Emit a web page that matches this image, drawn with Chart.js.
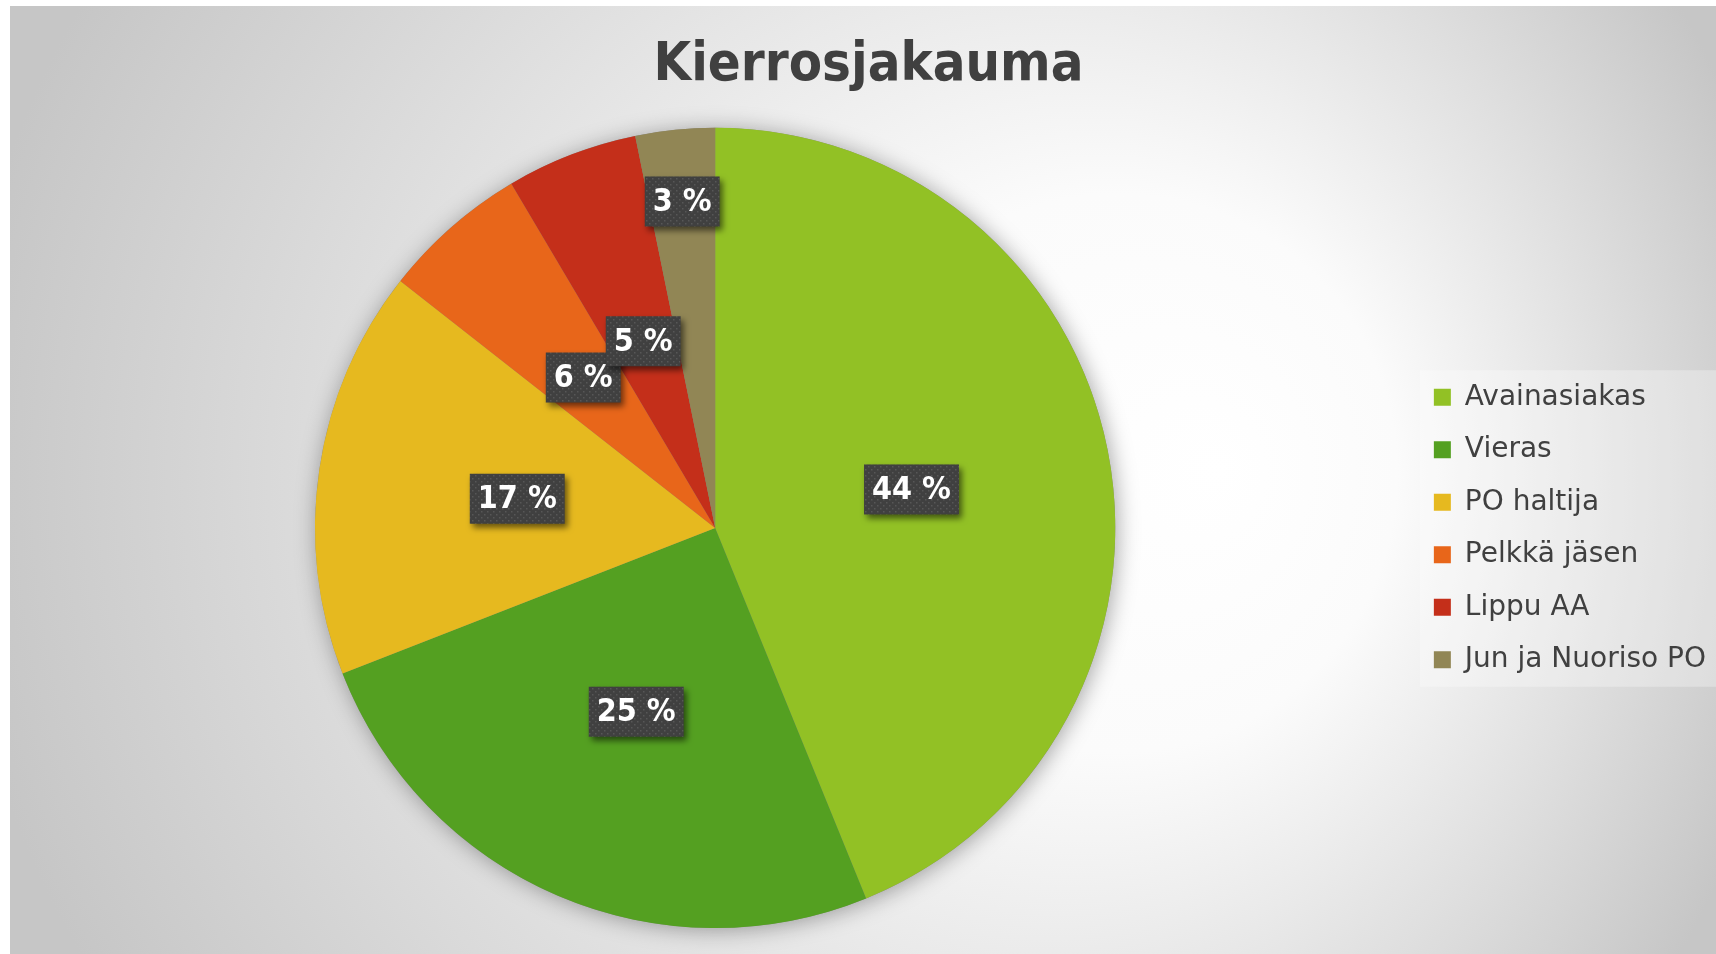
<!DOCTYPE html>
<html>
<head>
<meta charset="utf-8">
<script src="https://cdn.jsdelivr.net/npm/chart.js@4/dist/chart.umd.min.js"></script>
<style>
  html, body { margin: 0; padding: 0; background: #fff; }
  #wrap { width: 1716px; height: 954px; }
</style>
</head>
<body>
<div id="wrap"><canvas id="pie" width="1716" height="954"></canvas></div>
<script>
// kierrokset jakauma
const categories = ['Avainasiakas', 'Vieras', 'PO haltija', 'Pelkkä jäsen', 'Lippu AA', 'Jun ja Nuoriso PO'];
const rounds = [438, 252, 165, 59, 53, 32];
const sliceColors = ['#92c125', '#54a021', '#e6b91f', '#e8661a', '#c42f1a', '#918655'];
// etiketin etäisyys keskeltä (osuus säteestä)
const labelRadius = [0.5, 0.5, 0.5, 0.5, 0.5, 0.82];

const total = rounds.reduce((a, b) => a + b, 0);

// pisteytetty kuvio etikettilaatikoille
function dotPattern(ctx) {
  const c = document.createElement('canvas');
  c.width = 6; c.height = 6;
  const p = c.getContext('2d');
  p.fillStyle = '#404040';
  p.fillRect(0, 0, 6, 6);
  p.fillStyle = '#575757';
  p.fillRect(1, 1, 1.5, 1.5);
  p.fillRect(4, 4, 1.5, 1.5);
  return ctx.createPattern(c, 'repeat');
}

const backdrop = {
  id: 'backdrop',
  beforeDraw(chart) {
    const {ctx, width, height} = chart;
    ctx.save();
    ctx.fillStyle = '#fff';
    ctx.fillRect(0, 0, width, height);
    const g = ctx.createRadialGradient(1220, 470, 0, 880, 480, 930);
    g.addColorStop(0, '#ffffff');
    g.addColorStop(0.3, '#fbfbfb');
    g.addColorStop(1, '#c6c6c6');
    ctx.fillStyle = g;
    ctx.fillRect(10, 6, width - 10, height - 6);
    // legendan tausta
    const boxes = chart.legend.legendHitBoxes;
    if (boxes && boxes.length) {
      const top = boxes[0].top - 13;
      const bottom = boxes[boxes.length - 1].top + boxes[boxes.length - 1].height + 13;
      const left = boxes[0].left - 14;
      ctx.fillStyle = 'rgba(255,255,255,0.3)';
      ctx.fillRect(left, top, width - left, bottom - top);
    }
    ctx.restore();
  },
  beforeDatasetsDraw(chart) {
    const arc = chart.getDatasetMeta(0).data[0];
    if (!arc) return;
    const {ctx} = chart;
    ctx.save();
    ctx.shadowColor = 'rgba(0,0,0,0.35)';
    ctx.shadowBlur = 22;
    ctx.shadowOffsetX = 2;
    ctx.shadowOffsetY = 2;
    ctx.fillStyle = '#888';
    ctx.beginPath();
    ctx.arc(arc.x, arc.y, arc.outerRadius, 0, Math.PI * 2);
    ctx.fill();
    ctx.restore();
  }
};

const sliceLabels = {
  id: 'sliceLabels',
  afterDatasetsDraw(chart) {
    const {ctx} = chart;
    const pat = dotPattern(ctx);
    chart.getDatasetMeta(0).data.forEach((arc, i) => {
      const mid = (arc.startAngle + arc.endAngle) / 2;
      const r = arc.outerRadius * labelRadius[i];
      const x = arc.x + Math.cos(mid) * r;
      const y = arc.y + Math.sin(mid) * r;
      const text = Math.round(rounds[i] / total * 100) + ' %';
      ctx.save();
      ctx.font = 'bold 32px "DejaVu Sans Condensed", "DejaVu Sans", sans-serif';
      const w = ctx.measureText(text).width + 16;
      const h = 50;
      ctx.shadowColor = 'rgba(0,0,0,0.55)';
      ctx.shadowBlur = 6;
      ctx.shadowOffsetX = 3;
      ctx.shadowOffsetY = 4;
      ctx.fillStyle = pat;
      ctx.fillRect(x - w / 2, y - h / 2, w, h);
      ctx.shadowColor = 'transparent';
      ctx.fillStyle = '#ffffff';
      ctx.textAlign = 'center';
      ctx.textBaseline = 'middle';
      ctx.fillText(text, x, y + 1);
      ctx.restore();
    });
  }
};

new Chart(document.getElementById('pie'), {
  type: 'pie',
  data: {
    labels: categories,
    datasets: [{
      data: rounds,
      backgroundColor: sliceColors,
      borderWidth: 0
    }]
  },
  options: {
    responsive: false,
    animation: false,
    layout: { padding: { top: 7, left: 21, right: 0, bottom: 26 } },
    plugins: {
      title: {
        display: true,
        text: 'Kierrosjakauma',
        color: '#404040',
        font: { family: '"DejaVu Sans Condensed", "DejaVu Sans", sans-serif', size: 54, weight: 'bold' },
        padding: { top: 27, bottom: 29 }
      },
      legend: {
        position: 'right',
        // tyhjä otsikko siirtää merkinnät alemmas
        title: { display: true, text: ' ', font: { size: 10 }, padding: { top: 110, bottom: 0 } },
        labels: {
          boxWidth: 17,
          boxHeight: 17,
          padding: 24.5,
          color: '#404040',
          font: { family: '"DejaVu Sans", sans-serif', size: 28 }
        }
      },
      tooltip: { enabled: false }
    }
  },
  plugins: [backdrop, sliceLabels]
});
</script>
</body>
</html>
